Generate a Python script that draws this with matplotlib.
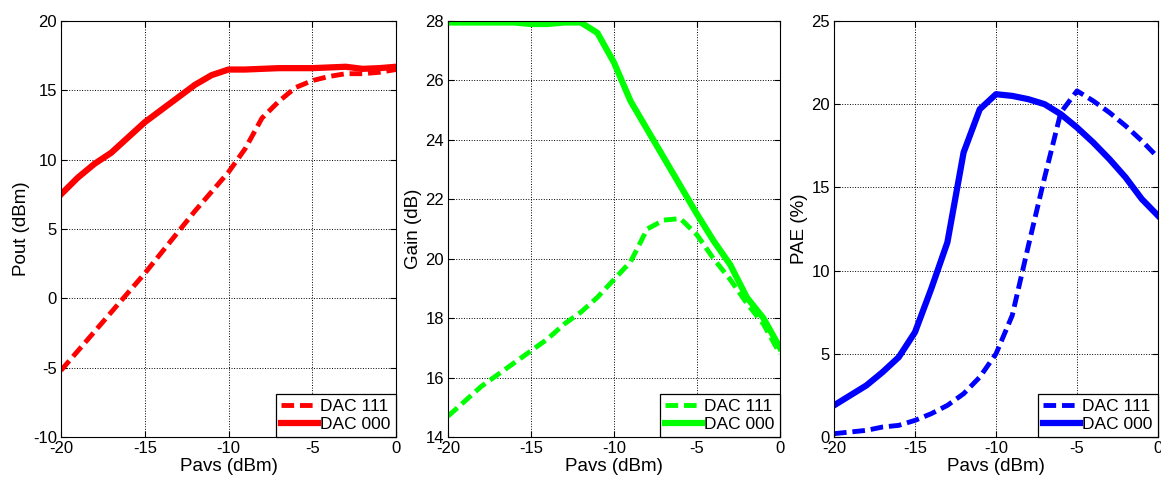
import matplotlib.pyplot as plt
import numpy as np

plt.rcParams['font.family'] = ['Liberation Sans', 'DejaVu Sans']
plt.rcParams['axes.unicode_minus'] = False

pavs = list(range(-20, 1))

pout_111 = [-5.2, -3.8, -2.4, -1.0, 0.4, 1.8, 3.3, 4.8, 6.3, 7.7, 9.1,
            10.8, 13.0, 14.2, 15.2, 15.7, 16.0, 16.2, 16.2, 16.3, 16.5]
pout_000 = [7.5, 8.7, 9.7, 10.5, 11.6, 12.7, 13.6, 14.5, 15.4, 16.1, 16.5,
            16.5, 16.55, 16.6, 16.6, 16.6, 16.65, 16.7, 16.55, 16.6, 16.7]

gain_111 = [14.7, 15.2, 15.7, 16.1, 16.5, 16.9, 17.3, 17.8, 18.2, 18.7, 19.3,
            19.9, 21.0, 21.3, 21.35, 20.8, 20.0, 19.3, 18.5, 17.8, 16.8]
gain_000 = [27.95, 27.95, 27.95, 27.95, 27.95, 27.9, 27.9, 27.95, 27.95, 27.6, 26.6,
            25.3, 24.35, 23.4, 22.45, 21.5, 20.6, 19.8, 18.7, 18.0, 17.0]

pae_111 = [0.2, 0.3, 0.4, 0.6, 0.7, 1.0, 1.4, 1.9, 2.6, 3.6, 5.0,
           7.3, 11.5, 15.6, 19.5, 20.8, 20.2, 19.5, 18.7, 17.8, 16.8]
pae_000 = [1.9, 2.5, 3.1, 3.9, 4.8, 6.3, 8.9, 11.7, 17.1, 19.7, 20.6,
           20.5, 20.3, 20.0, 19.4, 18.6, 17.7, 16.7, 15.6, 14.3, 13.3]

panels = [
    (pout_111, pout_000, '#ff0000', 'Pout (dBm)', (-10, 20), np.arange(-10, 21, 5)),
    (gain_111, gain_000, '#00ff00', 'Gain (dB)', (14, 28), np.arange(14, 29, 2)),
    (pae_111, pae_000, '#0000ff', 'PAE (%)', (0, 25), np.arange(0, 26, 5)),
]
lefts = [61, 448, 834]
widths = [335, 332, 324]

fig = plt.figure(figsize=(11.61, 4.8), dpi=100)
for (d111, d000, col, ylab, ylim, yt), l, w in zip(panels, lefts, widths):
    ax = fig.add_axes([l / 1161, 43 / 480, w / 1161, 416 / 480])
    ax.plot(pavs, d111, color=col, lw=3.5, dashes=(2.6, 1.2), label='DAC 111')
    ax.plot(pavs, d000, color=col, lw=4.5, label='DAC 000')
    ax.set_xlim(-20, 0)
    ax.set_ylim(*ylim)
    ax.set_xticks([-20, -15, -10, -5, 0])
    ax.set_yticks(yt)
    ax.grid(True, color='black', linestyle=':', linewidth=0.7)
    ax.tick_params(direction='in', labelsize=12, length=4, top=True, right=True, pad=3)
    ax.set_xlabel('Pavs (dBm)', fontsize=13.5, labelpad=1)
    ax.set_ylabel(ylab, fontsize=13.5, labelpad=2)
    for s in ax.spines.values():
        s.set_linewidth(0.8)
    leg = ax.legend(loc='lower right', fontsize=12.5, fancybox=False, framealpha=1,
                    borderaxespad=0, handlelength=2.1, handletextpad=0.15,
                    labelspacing=0.15, borderpad=0.3)
    leg.get_frame().set_edgecolor('black')
    leg.get_frame().set_linewidth(0.9)

fig.savefig('out.png', dpi=100)
